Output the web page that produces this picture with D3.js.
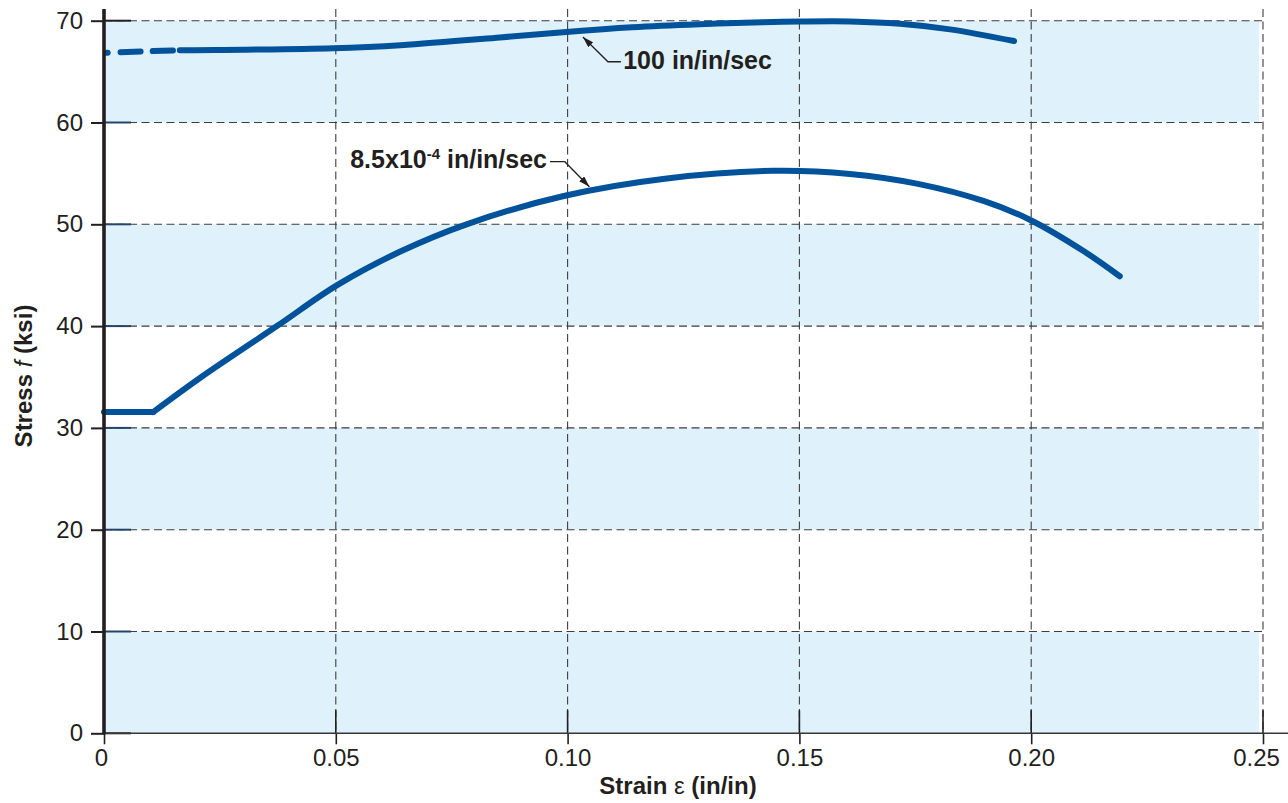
<!DOCTYPE html>
<html><head><meta charset="utf-8">
<script src="https://cdn.jsdelivr.net/npm/d3@7"></script>
<style>
html,body{margin:0;padding:0;background:#fff;}
svg{display:block;font-family:"Liberation Sans",Arial,Helvetica,sans-serif;}
</style>
</head><body>
<svg id="chart" width="1288" height="803"></svg>
<script>
// ---------- data ----------
const xTicks = [0, 0.05, 0.10, 0.15, 0.20, 0.25];
const xTickLabels = ["0", "0.05", "0.10", "0.15", "0.20", "0.25"];
const yTicks = [0, 10, 20, 30, 40, 50, 60, 70];
const shadedBands = [[0, 10], [20, 30], [40, 50], [60, 70]];

// 100 in/in/sec
const strainFast = [0.0006, 0.016, 0.03, 0.0494, 0.064, 0.0854, 0.0997, 0.114, 0.1285, 0.142, 0.15, 0.161, 0.1717, 0.1825, 0.1963];
const stressFast = [66.86, 67.09, 67.15, 67.3, 67.6, 68.35, 68.9, 69.35, 69.65, 69.85, 69.92, 69.93, 69.7, 69.15, 68.0];

// 8.5x10^-4 in/in/sec
const strainSlow = [0, 0.0106, 0.0207, 0.0373, 0.0502, 0.0638, 0.0782, 0.0994, 0.1214, 0.1443, 0.1609, 0.1753, 0.1897, 0.1997, 0.2112, 0.2191];
const stressSlow = [31.55, 31.55, 34.9, 40.0, 44.0, 47.3, 50.0, 52.8, 54.5, 55.25, 54.95, 54.0, 52.3, 50.45, 47.4, 44.9];

const labelFast = "100 in/in/sec";
const labelSlowMain = "8.5x10", labelSlowExp = "-4", labelSlowTail = " in/in/sec";

// ---------- setup ----------
const W = 1288, H = 803;
const svg = d3.select("#chart");
const x = d3.scaleLinear().domain([0, 0.25]).range([104, 1263]);
const y = d3.scaleLinear().domain([0, 70]).range([733.3, 20.7]);
const ink = "#231f20";
const curveColor = "#00529b";
const FONT = '"Liberation Sans", Arial, Helvetica, sans-serif';

// bands
svg.append("g").selectAll("rect").data(shadedBands).join("rect")
  .attr("x", x(0)).attr("width", x(0.25) - 4 - x(0))
  .attr("y", d => y(d[1])).attr("height", d => y(d[0]) - y(d[1]))
  .attr("fill", "#dff1fb");

// grid
const grid = svg.append("g").attr("stroke", "#3d3d3d").attr("stroke-width", 1.1).attr("stroke-dasharray", "8,4.5").attr("fill", "none");
grid.selectAll("line.h").data(yTicks.filter(d => d > 0)).join("line").attr("class", "h")
  .attr("x1", x(0)).attr("x2", x(0.25)).attr("y1", d => y(d)).attr("y2", d => y(d));
grid.selectAll("line.v").data(xTicks.filter(d => d > 0)).join("line").attr("class", "v")
  .attr("x1", d => x(d)).attr("x2", d => x(d)).attr("y1", 9).attr("y2", y(0));

// curves
const line = d3.line().x(d => x(d[0])).y(d => y(d[1])).curve(d3.curveCatmullRom.alpha(0.5));
const lineLin = d3.line().x(d => x(d[0])).y(d => y(d[1]));
const fastPts = strainFast.map((s, i) => [s, stressFast[i]]);
const slowPts = strainSlow.map((s, i) => [s, stressSlow[i]]);

svg.append("path").attr("d", line(fastPts)).attr("fill", "none")
  .attr("stroke", curveColor).attr("stroke-width", 6).attr("stroke-linecap", "round")
  .attr("stroke-dasharray", "1,13,20,12,20,7,4000");
svg.append("path").attr("d", lineLin(slowPts.slice(0, 2))).attr("fill", "none")
  .attr("stroke", curveColor).attr("stroke-width", 6).attr("stroke-linecap", "round");
svg.append("path").attr("d", line(slowPts.slice(1))).attr("fill", "none")
  .attr("stroke", curveColor).attr("stroke-width", 6).attr("stroke-linecap", "round");

// axes
const yAxis = d3.axisLeft(y).tickValues(yTicks).tickSize(13).tickPadding(8).tickFormat(d => d);
const gy = svg.append("g").attr("transform", `translate(${x(0)},0)`).call(yAxis)
  .attr("font-family", FONT).attr("font-size", 24);
gy.select(".domain").remove();
gy.selectAll(".tick line").attr("stroke", ink).attr("stroke-width", 2);
gy.selectAll(".tick text").attr("fill", ink);
// inner tick stubs
svg.append("g").selectAll("line").data(yTicks).join("line")
  .attr("x1", x(0)).attr("x2", x(0) + 27).attr("y1", d => y(d)).attr("y2", d => y(d))
  .attr("stroke", d => d === 70 || d === 0 ? ink : "#24446a").attr("stroke-width", 2);

const xAxis = d3.axisBottom(x).tickValues(xTicks).tickSize(11).tickPadding(5)
  .tickFormat((d, i) => xTickLabels[i]);
const gx = svg.append("g").attr("transform", `translate(0,${y(0)})`).call(xAxis)
  .attr("font-family", FONT).attr("font-size", 24);
gx.select(".domain").remove();
gx.selectAll(".tick line").attr("stroke", ink).attr("stroke-width", 1.6);
gx.selectAll(".tick text").attr("fill", ink)
  .attr("dx", (d, i) => i === 0 ? -3 : (i === xTicks.length - 1 ? -7 : 0));
// upper tick stubs
svg.append("g").selectAll("line").data(xTicks.filter(d => d > 0)).join("line")
  .attr("x1", d => x(d)).attr("x2", d => x(d)).attr("y1", y(0) - 23).attr("y2", y(0))
  .attr("stroke", ink).attr("stroke-width", 1.6);

// axis lines
svg.append("line").attr("x1", x(0)).attr("x2", W).attr("y1", y(0)).attr("y2", y(0))
  .attr("stroke", "#3a3536").attr("stroke-width", 1.6);
svg.append("line").attr("x1", x(0)).attr("x2", x(0)).attr("y1", 9).attr("y2", y(0) + 1)
  .attr("stroke", ink).attr("stroke-width", 3.6);

// axis titles
const xt = svg.append("text").attr("x", 678).attr("y", 794).attr("text-anchor", "middle")
  .attr("font-size", 24).attr("font-weight", "bold").attr("fill", ink);
xt.append("tspan").text("Strain ");
xt.append("tspan").attr("font-weight", "normal").text("ε");
xt.append("tspan").text(" (in/in)");

const yt = svg.append("text").attr("transform", "translate(32,376) rotate(-90)").attr("text-anchor", "middle")
  .attr("font-size", 24).attr("font-weight", "bold").attr("fill", ink);
yt.append("tspan").text("Stress ");
yt.append("tspan").attr("font-weight", "normal").attr("font-style", "italic").text("f");
yt.append("tspan").text(" (ksi)");

// annotations
const defs = svg.append("defs");
defs.append("marker").attr("id", "arrow").attr("viewBox", "0 0 11 7").attr("refX", 11).attr("refY", 3.5)
  .attr("markerWidth", 11).attr("markerHeight", 7).attr("markerUnits", "userSpaceOnUse").attr("orient", "auto")
  .append("path").attr("d", "M0,0 L11,3.5 L0,7 z").attr("fill", ink);

const leader = d3.line().x(d => x(d[0])).y(d => y(d[1]));
svg.append("path").attr("d", leader([[0.1115, 65.97], [0.1087, 65.97], [0.1033, 68.4]]))
  .attr("fill", "none").attr("stroke", ink).attr("stroke-width", 1.3).attr("marker-end", "url(#arrow)");
svg.append("path").attr("d", leader([[0.0962, 56.15], [0.0994, 56.15], [0.1047, 53.69]]))
  .attr("fill", "none").attr("stroke", ink).attr("stroke-width", 1.3).attr("marker-end", "url(#arrow)");

svg.append("text").attr("x", x(0.1120)).attr("y", y(65.23)).attr("font-size", 25).attr("font-weight", "bold")
  .attr("fill", ink).text(labelFast);
const t2 = svg.append("text").attr("x", x(0.09556)).attr("y", y(55.5)).attr("text-anchor", "end")
  .attr("font-size", 25).attr("font-weight", "bold").attr("fill", ink);
t2.append("tspan").text(labelSlowMain);
t2.append("tspan").attr("font-size", 15).attr("dy", -9).text(labelSlowExp);
t2.append("tspan").attr("dy", 9).text(labelSlowTail);
</script>
</body></html>
